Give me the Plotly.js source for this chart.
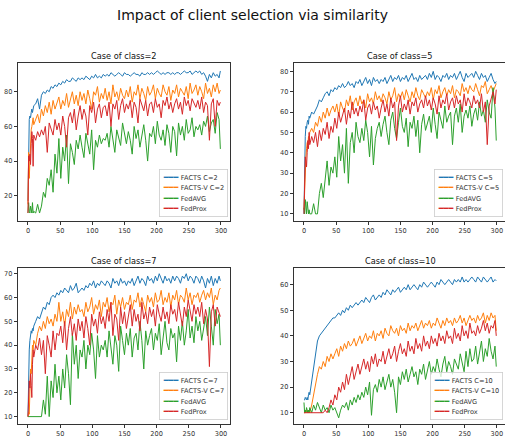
<!DOCTYPE html>
<html>
<head>
<meta charset="utf-8">
<script src="https://cdn.plot.ly/plotly-3.0.1.min.js"></script>
<style>html,body{margin:0;padding:0;background:#fff;}#chart{width:505px;height:437px;}</style>
</head>
<body>
<div id="chart"></div>
<script>
// Epochs sampled: 0..9, then every 3rd epoch 12..297, then 299
const epochs = [0,1,2,3,4,5,6,7,8,9];
for (let e = 12; e <= 297; e += 3) epochs.push(e);
epochs.push(299);

const seriesNames = ["FACTS", "FACTS-V", "FedAVG", "FedProx"];
const panelTitles = ["Case of class=2", "Case of class=5", "Case of class=7", "Case of class=10"];
const classCounts = [2, 5, 7, 10];

// ---- class = 2 ----
const c2_facts = [17,45,64,66,65,68,70,68,71,72,
 73,76,70,78,80,79,81,80,83,82,84,83,
 85,84,86,85,87,86,86,88,87,86,88,87,
 88,87,89,88,87,89,88,90,88,89,88,90,
 89,90,89,91,90,89,90,91,90,89,91,90,
 90,89,90,91,90,90,89,91,90,90,91,90,
 91,90,91,92,91,90,91,90,91,91,90,91,
 90,91,91,90,91,92,91,91,92,90,91,92,
 91,92,90,91,89,86,90,88,91,89,90,88,
 92];
const c2_factsv = [15,45,30,40,52,58,60,63,65,61,
 64,67,62,70,66,72,68,74,67,75,70,73,
 77,70,75,72,79,71,76,80,73,78,72,80,
 75,79,73,81,76,70,80,78,83,74,79,76,
 82,75,80,73,84,77,80,75,82,78,76,81,
 77,83,74,80,78,84,76,82,79,75,83,78,
 80,84,76,82,79,77,84,80,78,83,75,81,
 79,84,77,82,80,78,83,76,85,79,81,84,
 78,83,80,76,85,79,82,77,84,80,85,79,
 81];
const c2_fedavg = [10,16,11,10,14,10,10,16,10,11,
 10,15,10,14,22,19,30,26,35,22,44,33,
 53,30,48,40,55,27,50,45,38,52,47,55,
 48,42,56,50,44,58,35,52,48,55,50,53,
 52,56,48,60,51,45,58,53,49,62,55,50,
 57,52,44,60,53,58,48,55,61,52,40,56,
 54,60,50,63,55,52,58,49,61,56,45,60,
 57,43,62,55,60,52,64,56,58,65,54,60,
 58,61,55,63,60,66,57,62,64,56,68,64,
 47];
const c2_fedprox = [10,43,40,44,38,50,57,53,37,55,
 52,57,54,58,55,60,45,62,58,55,64,58,
 62,55,66,60,48,65,68,62,70,58,66,72,
 64,70,66,55,72,68,74,62,70,73,65,71,
 72,66,74,60,73,70,75,64,72,76,68,73,
 70,75,65,74,71,62,76,72,69,75,66,73,
 74,68,76,71,73,65,75,72,77,70,74,68,
 73,76,70,74,67,77,72,75,69,76,73,71,
 75,70,77,68,74,72,52,73,76,60,75,72,
 74];

// ---- class = 5 ----
const c5_facts = [10,35,48,53,52,55,56,54,58,57,
 60,59,61,63,66,65,67,69,70,68,71,70,
 72,71,73,72,74,72,73,75,73,74,72,75,
 74,76,73,75,77,74,76,73,77,75,76,74,
 76,75,77,74,76,78,75,77,76,78,75,77,
 76,78,75,77,79,76,77,75,78,76,77,78,
 76,79,77,80,76,78,77,75,78,77,79,76,
 78,77,79,76,78,80,77,75,79,77,78,79,
 77,80,78,76,79,77,78,75,77,79,76,74,
 75];
const c5_factsv = [12,22,35,38,42,45,44,48,46,50,
 52,50,55,53,58,55,60,57,62,58,61,63,
 60,64,58,65,62,60,66,63,68,61,65,67,
 63,68,64,66,62,69,65,67,64,70,66,68,
 65,69,67,64,70,66,68,72,65,69,67,70,
 66,71,68,65,70,67,72,68,66,71,69,67,
 70,68,72,66,71,69,73,67,70,72,68,71,
 69,73,67,71,70,68,74,70,72,69,73,71,
 70,74,71,68,73,72,75,69,71,73,70,72,
 74];
const c5_fedavg = [13,10,17,10,10,16,10,10,12,10,
 10,15,10,10,20,25,18,28,36,24,33,30,
 38,28,48,36,44,30,52,25,45,50,40,55,
 48,45,52,46,56,50,38,53,34,47,52,55,
 48,54,58,50,44,56,60,52,47,55,62,53,
 50,57,43,55,52,58,48,56,40,54,59,51,
 55,58,50,62,54,47,60,56,52,63,55,58,
 60,44,58,62,55,64,50,58,61,57,63,53,
 59,62,56,65,58,61,55,66,60,57,72,62,
 46];
const c5_fedprox = [10,30,38,36,33,40,46,42,50,44,
 48,45,50,43,51,46,52,49,55,47,53,50,
 57,52,60,55,58,62,54,61,57,65,59,62,
 58,63,60,66,56,62,64,59,65,61,63,57,
 62,66,60,64,58,67,62,65,46,63,68,60,
 64,61,66,59,65,63,67,60,64,66,62,68,
 63,66,61,67,64,59,68,62,66,64,69,61,
 65,67,62,68,64,66,60,69,63,67,65,62,
 68,64,66,62,69,60,65,44,63,67,70,64,
 71];

// ---- class = 7 ----
const c7_facts = [10,30,38,42,44,46,45,47,46,48,
 50,52,51,54,56,55,58,57,60,61,60,62,
 61,63,62,64,63,62,65,63,64,66,62,63,
 64,63,65,64,66,65,67,64,66,65,67,66,
 65,67,66,64,68,66,67,65,68,66,67,65,
 67,66,68,65,67,69,66,68,67,65,69,67,
 68,66,69,67,70,68,66,69,67,68,66,69,
 67,69,68,66,69,68,70,67,69,68,66,69,
 68,66,69,67,64,68,66,69,65,68,66,69,
 67];
const c7_factsv = [10,12,11,25,30,28,35,40,38,42,
 40,45,48,46,50,47,52,49,51,48,53,50,
 58,50,54,48,55,52,58,51,56,53,57,54,
 55,52,58,54,56,60,53,57,55,59,52,58,
 56,60,54,58,57,61,53,59,56,60,55,58,
 57,61,55,59,58,62,56,60,57,54,61,58,
 60,56,62,58,59,63,57,60,58,62,56,61,
 59,63,57,61,60,58,64,59,62,57,61,60,
 62,58,61,63,59,62,60,64,57,61,59,63,
 64];
const c7_fedavg = [10,10,10,10,10,10,10,10,10,10,
 10,10,10,10,17,11,27,10,25,18,32,20,
 27,17,30,22,36,28,15,45,32,40,26,38,
 35,42,30,40,36,45,38,26,44,35,40,38,
 42,35,46,38,32,44,40,29,48,42,36,45,
 40,47,35,43,45,38,50,42,30,46,40,44,
 47,38,45,42,49,36,44,50,41,38,47,43,
 45,33,48,42,50,40,46,55,43,48,41,52,
 46,50,42,48,52,44,56,48,40,55,49,53,
 40];
const c7_fedprox = [10,20,25,22,28,23,18,32,38,35,
 40,38,43,36,42,28,44,40,35,46,38,45,
 44,48,41,50,38,47,52,44,49,42,51,46,
 50,43,52,47,40,53,48,51,45,54,49,52,
 47,55,50,58,44,53,51,42,56,49,54,47,
 52,57,48,55,50,53,46,58,51,54,49,56,
 52,55,48,57,53,50,56,51,54,49,57,53,
 55,50,58,53,48,56,52,59,54,50,57,53,
 56,52,58,49,55,51,31,54,57,48,56,53,
 52];

// ---- class = 10 ----
const c10_facts = [15,15,16,15,15,16,15,17,18,17,
 22,28,33,38,40,41,42,43,44,45,46,47,
 47,48,49,48,50,49,51,50,52,51,52,53,
 52,53,54,53,55,54,53,55,56,54,55,56,
 55,57,56,58,57,56,58,57,58,59,57,58,
 59,58,60,58,59,60,59,58,60,59,61,60,
 59,60,61,60,59,61,60,62,61,60,61,62,
 61,60,62,61,62,61,63,61,62,61,62,63,
 62,61,63,62,61,63,62,61,62,63,61,62,
 61.5];
const c10_factsv = [10,10,10,11,10,10,11,10,11,10,
 13,17,22,25,28,27,30,28,32,30,33,31,
 33,35,32,36,34,37,35,38,36,37,39,36,
 38,40,37,39,41,38,40,39,42,38,41,40,
 42,39,43,41,40,44,42,41,43,40,44,42,
 43,41,45,42,44,43,45,42,44,46,43,45,
 44,46,43,45,44,47,45,43,46,44,47,45,
 46,44,47,45,46,48,45,47,44,46,48,46,
 47,45,48,46,47,49,45,48,46,49,47,48,
 42];
const c10_fedavg = [14,10,11,10,12,10,10,11,10,12,
 10,13,11,14,12,10,13,11,12,10,13,11,
 12,10,8,11,13,12,14,11,15,13,16,14,
 17,15,18,16,20,17,22,9,19,21,18,23,
 20,24,19,22,25,20,23,18,10,24,21,26,
 23,27,22,25,28,24,26,21,27,25,29,23,
 27,30,25,28,26,31,27,24,29,32,26,30,
 28,25,31,29,27,33,30,26,34,28,35,30,
 31,36,29,33,38,30,35,32,39,34,31,36,
 28];
const c10_fedprox = [10,10,10,10,10,10,10,10,10,10,
 10,10,10,10,10,10,10,11,10,12,15,13,
 17,15,20,18,22,19,25,21,24,28,23,26,
 29,25,28,31,27,30,26,32,29,33,28,31,
 30,34,29,32,35,31,33,36,30,34,37,33,
 35,32,38,34,36,33,39,35,37,34,40,36,
 38,35,40,37,39,36,41,38,40,37,42,39,
 40,37,43,39,41,38,44,40,42,39,45,41,
 42,40,44,41,43,46,42,45,41,44,43,46,
 40];

const panels = [
  [c2_facts, c2_factsv, c2_fedavg, c2_fedprox],
  [c5_facts, c5_factsv, c5_fedavg, c5_fedprox],
  [c7_facts, c7_factsv, c7_fedavg, c7_fedprox],
  [c10_facts, c10_factsv, c10_fedavg, c10_fedprox]
];
const colors = ["#1f77b4", "#ff7f0e", "#2ca02c", "#d62728"];

const W = 505, H = 437;
const traces = [];
panels.forEach((p, i) => {
  const ax = i === 0 ? "" : String(i + 1);
  p.forEach((vals, j) => {
    traces.push({
      type: "scatter", mode: "lines",
      x: epochs.slice(0, vals.length), y: vals,
      xaxis: "x" + ax, yaxis: "y" + ax,
      line: { color: colors[j], width: 1 },
      name: seriesNames[j], showlegend: false, hoverinfo: "skip"
    });
  });
});

// geometry in pixels
const xDomPx = [[18, 230], [294, 505], [18, 230], [294, 505]];
const yDomPx = [[63, 221], [63, 221], [268, 424], [268, 424]];
const xRanges = [[-15.5, 314], [-15.5, 312.6], [-15.5, 314], [-15.5, 312.6]];
const yRanges = [[5.4, 96.6], [6.5, 84.1], [6.9, 72.4], [5.6, 66.5]];
const yDticks = [20, 10, 10, 10];

const layout = {
  width: W, height: H,
  margin: { l: 0, r: 0, t: 0, b: 0 },
  paper_bgcolor: "#ffffff", plot_bgcolor: "#ffffff",
  font: { family: "DejaVu Sans, sans-serif", color: "#222" },
  title: { text: "Impact of client selection via similarity", x: 0.5, xanchor: "center",
           y: 1 - 15 / H, yanchor: "middle", font: { size: 14, color: "#111" } },
  showlegend: false,
  annotations: []
};

for (let i = 0; i < 4; i++) {
  const ax = i === 0 ? "" : String(i + 1);
  const rightCol = (i % 2 === 1);
  layout["xaxis" + ax] = {
    domain: [xDomPx[i][0] / W, xDomPx[i][1] / W],
    anchor: "y" + ax, range: xRanges[i],
    tickvals: [0, 50, 100, 150, 200, 250, 300],
    ticks: "outside", ticklen: 3.5, tickwidth: 0.8, tickcolor: "#000",
    showline: true, linecolor: "#000", linewidth: 0.8, mirror: true,
    showgrid: false, zeroline: false,
    tickfont: { size: 6.6, color: "#333" }
  };
  layout["yaxis" + ax] = {
    domain: [1 - yDomPx[i][1] / H, 1 - yDomPx[i][0] / H],
    anchor: "x" + ax, range: yRanges[i], dtick: yDticks[i], tick0: 0,
    ticks: "outside", ticklen: 3.5, tickwidth: 0.8, tickcolor: "#000",
    showline: true, linecolor: "#000", linewidth: 0.8, mirror: !rightCol,
    showgrid: false, zeroline: false,
    tickfont: { size: 6.6, color: "#333" }
  };
  // subplot title
  layout.annotations.push({
    text: panelTitles[i], xref: "paper", yref: "paper",
    x: (xDomPx[i][0] + (rightCol ? 506 : xDomPx[i][1])) / 2 / W,
    y: 1 - (yDomPx[i][0] - 7) / H, xanchor: "center", yanchor: "middle",
    showarrow: false, font: { size: 8.2, color: "#111" }
  });
  // legend box
  const c = classCounts[i];
  const labels = ["FACTS C=" + c, "FACTS-V C=" + c, "FedAVG", "FedProx"];
  const lines = labels.map((lb, j) =>
    "<span style='color:" + colors[j] + "'>━━━</span> <span style='font-size:6.6px;color:#333333'>" + lb + "</span>");
  const legRight = rightCol ? 503 : 228;
  const legBottom = yDomPx[i][1] - 4;
  layout.annotations.push({
    text: lines.join("<br>"), xref: "paper", yref: "paper",
    x: legRight / W, y: 1 - legBottom / H, xanchor: "right", yanchor: "bottom",
    align: "left", showarrow: false,
    font: { size: 8, color: "#333" },
    bgcolor: "rgba(255,255,255,0.8)", bordercolor: "#cccccc", borderwidth: 0.8, borderpad: 3
  });
}

Plotly.newPlot("chart", traces, layout, { staticPlot: true, displayModeBar: false });
</script>
</body>
</html>
